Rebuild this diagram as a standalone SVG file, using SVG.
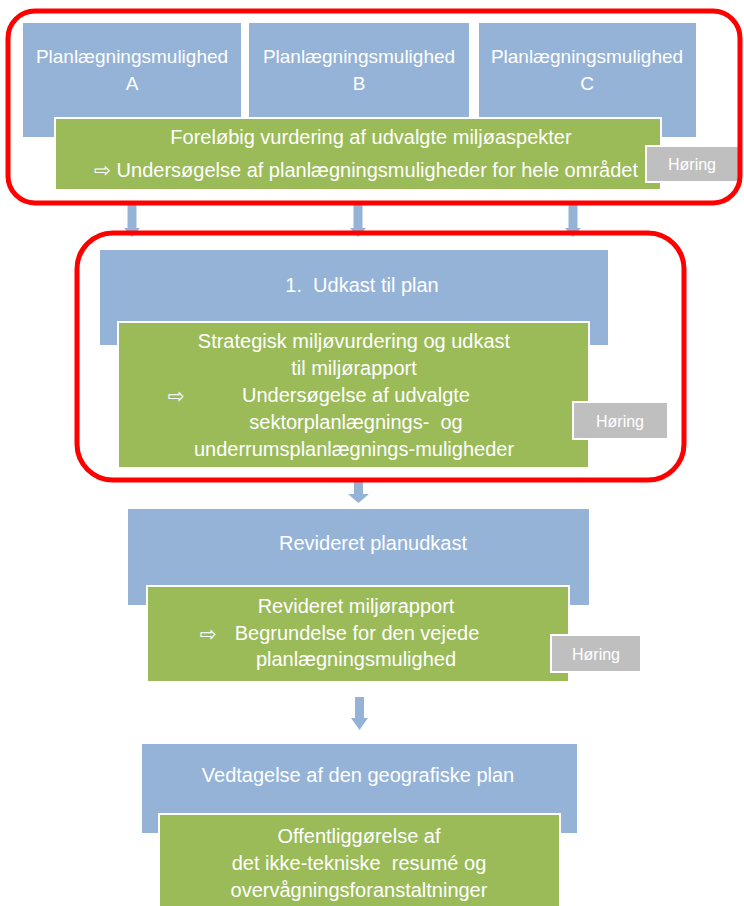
<svg xmlns="http://www.w3.org/2000/svg" width="744" height="906" viewBox="0 0 744 906">
<style>
.blue{fill:#95b3d7}
.green{fill:#9bbb59;stroke:#ffffff;stroke-width:2}
.gray{fill:#bfbfbf;stroke:#ffffff;stroke-width:2}
.frame{fill:none;stroke:#ff0000;stroke-width:5}
.arrow{fill:#95b3d7}
text{font-family:"Liberation Sans",Arial,sans-serif;font-size:20px;fill:#ffffff;text-anchor:middle;white-space:pre}
.opt{font-size:19px}
.h{font-size:16px}
.sym{font-family:"DejaVu Sans",sans-serif;font-size:20px}
</style>
<rect width="744" height="906" fill="#ffffff"/>
<g id="connectors">
<polygon class="arrow" points="127.5,205 136.5,205 136.5,228 140,228 132,237 124,228 127.5,228"/>
<polygon class="arrow" points="353.5,205 362.5,205 362.5,228 366,228 358,237 350,228 353.5,228"/>
<polygon class="arrow" points="568.5,205 577.5,205 577.5,228 581,228 573,237 565,228 568.5,228"/>
<polygon class="arrow" points="354,482 363,482 363,494 369,494 358.5,503 348,494 354,494"/>
<polygon class="arrow" points="355,697 364,697 364,718 368,718 359.5,730 351,718 355,718"/>
</g>
<g id="stage1">
<g id="optA"><rect class="blue" x="23" y="23" width="218" height="114"/><text class="opt" x="132" y="63">Planlægningsmulighed</text><text class="opt" x="132" y="90">A</text></g>
<g id="optB"><rect class="blue" x="249" y="23" width="220" height="114"/><text class="opt" x="359" y="63">Planlægningsmulighed</text><text class="opt" x="359" y="90">B</text></g>
<g id="optC"><rect class="blue" x="479" y="23" width="217" height="114"/><text class="opt" x="587" y="63">Planlægningsmulighed</text><text class="opt" x="587" y="90">C</text></g>
<g id="assess1"><rect class="green" x="55" y="118" width="606" height="72"/><text x="371" y="144">Foreløbig vurdering af udvalgte miljøaspekter</text><text x="366" y="177">⇨ Undersøgelse af planlægningsmuligheder for hele området</text></g>
<g id="hoering1"><rect class="gray" x="646" y="146" width="93" height="36"/><text class="h" x="692" y="170">Høring</text></g>
<rect id="frame1" class="frame" x="8" y="11" width="732" height="192" rx="27"/>
</g>
<g id="stage2">
<g id="draft"><rect class="blue" x="100" y="250" width="508" height="95"/><text x="362" y="292">1.  Udkast til plan</text></g>
<g id="sea"><rect class="green" x="118" y="322" width="471" height="146"/><text class="sym" x="176" y="403">⇨</text><text x="354" y="348">Strategisk miljøvurdering og udkast</text><text x="354" y="375">til miljørapport</text><text x="356" y="402">Undersøgelse af udvalgte</text><text x="356" y="429">sektorplanlægnings-  og</text><text x="354" y="456">underrumsplanlægnings-muligheder</text></g>
<g id="hoering2"><rect class="gray" x="573" y="402" width="95" height="37"/><text class="h" x="620" y="427">Høring</text></g>
<rect id="frame2" class="frame" x="77" y="233" width="607" height="247" rx="36"/>
</g>
<g id="stage3">
<g id="revised"><rect class="blue" x="128" y="509" width="461" height="96"/><text x="373" y="550">Revideret planudkast</text></g>
<g id="revreport"><rect class="green" x="147" y="586" width="422" height="96"/><text class="sym" x="208" y="641">⇨</text><text x="356" y="613">Revideret miljørapport</text><text x="357" y="640">Begrundelse for den vejede</text><text x="356" y="666">planlægningsmulighed</text></g>
<g id="hoering3"><rect class="gray" x="551" y="635" width="90" height="37"/><text class="h" x="596" y="660">Høring</text></g>
</g>
<g id="stage4">
<g id="adoption"><rect class="blue" x="142" y="744" width="435" height="89"/><text x="358" y="782">Vedtagelse af den geografiske plan</text></g>
<g id="publication"><rect class="green" x="159" y="814" width="401" height="100"/><text x="359" y="843">Offentliggørelse af</text><text x="359" y="870">det ikke-tekniske  resumé og</text><text x="359" y="897">overvågningsforanstaltninger</text></g>
</g>
</svg>
